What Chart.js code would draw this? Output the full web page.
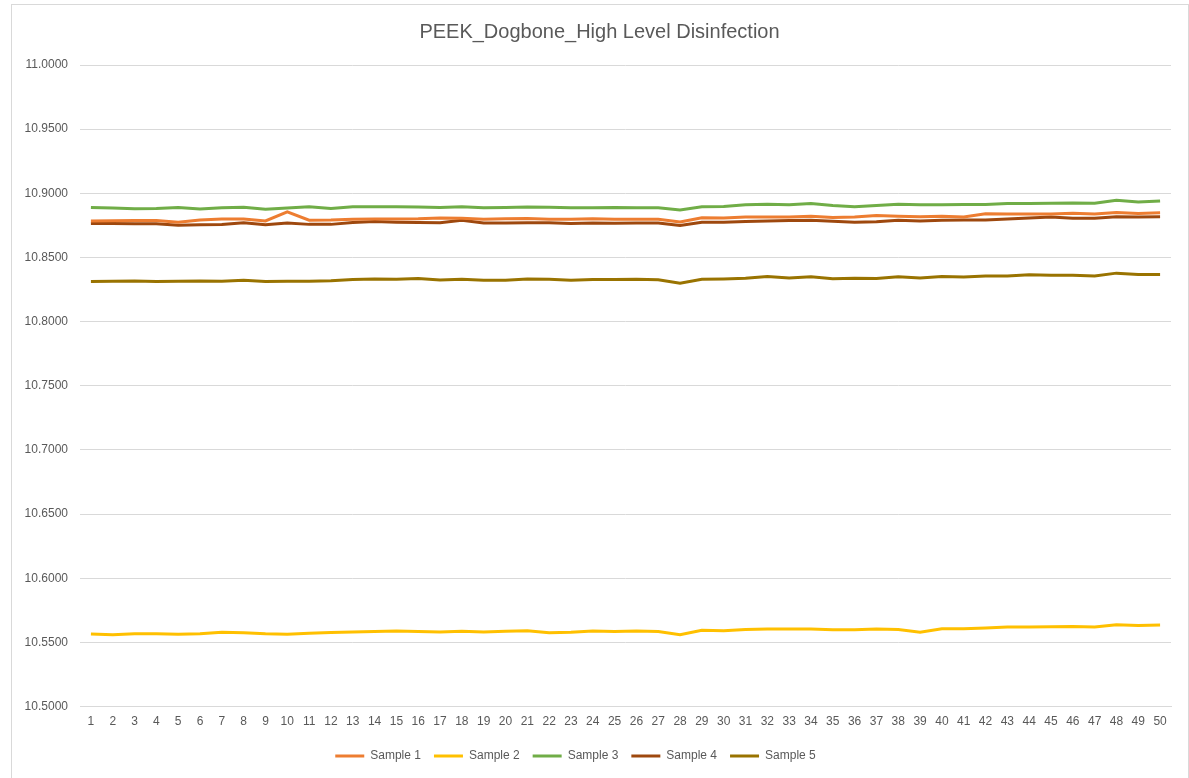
<!DOCTYPE html>
<html>
<head>
<meta charset="utf-8">
<script src="https://cdn.jsdelivr.net/npm/chart.js@4"></script>
<style>
  html, body { margin: 0; padding: 0; background: #ffffff; overflow: hidden; }
  #wrap { position: relative; width: 1189px; height: 778px; }
  #frame {
    position: absolute; left: 11px; top: 4px; width: 1176px; height: 800px;
    border: 1px solid #d9d9d9; pointer-events: none;
  }
</style>
</head>
<body>
<div id="wrap">
  <canvas id="chart" width="1189" height="778"></canvas>
  <div id="frame"></div>
</div>
<script>
const categories = Array.from({ length: 50 }, (_, i) => String(i + 1));

const sample1 = [10.8785, 10.8787, 10.8788, 10.8788, 10.8775, 10.8792, 10.8800, 10.8800, 10.8785, 10.8855,
  10.8790, 10.8792, 10.8798, 10.8800, 10.8800, 10.8802, 10.8808, 10.8805, 10.8798, 10.8802,
  10.8803, 10.8798, 10.8797, 10.8802, 10.8798, 10.8797, 10.8797, 10.8777, 10.8810, 10.8808,
  10.8815, 10.8815, 10.8815, 10.8822, 10.8812, 10.8815, 10.8828, 10.8822, 10.8818, 10.8822,
  10.8815, 10.8840, 10.8838, 10.8838, 10.8838, 10.8845, 10.8838, 10.8850, 10.8842, 10.8848];

const sample2 = [10.5565, 10.5560, 10.5568, 10.5567, 10.5563, 10.5567, 10.5580, 10.5575, 10.5567, 10.5563,
  10.5572, 10.5577, 10.5582, 10.5585, 10.5590, 10.5585, 10.5582, 10.5587, 10.5582, 10.5587,
  10.5592, 10.5575, 10.5580, 10.5590, 10.5585, 10.5590, 10.5585, 10.5560, 10.5595, 10.5592,
  10.5600, 10.5605, 10.5605, 10.5605, 10.5598, 10.5598, 10.5605, 10.5600, 10.5580, 10.5607,
  10.5607, 10.5612, 10.5620, 10.5620, 10.5622, 10.5625, 10.5620, 10.5637, 10.5632, 10.5635];

const sample3 = [10.8890, 10.8885, 10.8880, 10.8882, 10.8890, 10.8878, 10.8888, 10.8892, 10.8875, 10.8885,
  10.8895, 10.8882, 10.8895, 10.8895, 10.8895, 10.8893, 10.8890, 10.8895, 10.8888, 10.8890,
  10.8893, 10.8892, 10.8888, 10.8887, 10.8890, 10.8888, 10.8888, 10.8870, 10.8895, 10.8898,
  10.8910, 10.8915, 10.8910, 10.8920, 10.8905, 10.8895, 10.8905, 10.8915, 10.8910, 10.8910,
  10.8912, 10.8912, 10.8920, 10.8920, 10.8922, 10.8925, 10.8922, 10.8945, 10.8932, 10.8940];

const sample4 = [10.8765, 10.8765, 10.8762, 10.8763, 10.8752, 10.8755, 10.8757, 10.8770, 10.8755, 10.8768,
  10.8758, 10.8758, 10.8772, 10.8780, 10.8775, 10.8772, 10.8770, 10.8790, 10.8768, 10.8768,
  10.8770, 10.8770, 10.8765, 10.8768, 10.8767, 10.8768, 10.8768, 10.8750, 10.8775, 10.8775,
  10.8780, 10.8785, 10.8788, 10.8790, 10.8782, 10.8775, 10.8778, 10.8790, 10.8785, 10.8790,
  10.8792, 10.8793, 10.8800, 10.8808, 10.8815, 10.8805, 10.8805, 10.8818, 10.8815, 10.8818];

const sample5 = [10.8312, 10.8315, 10.8317, 10.8312, 10.8315, 10.8317, 10.8315, 10.8322, 10.8312, 10.8315,
  10.8315, 10.8318, 10.8328, 10.8332, 10.8330, 10.8337, 10.8325, 10.8330, 10.8322, 10.8322,
  10.8332, 10.8330, 10.8322, 10.8328, 10.8328, 10.8330, 10.8327, 10.8299, 10.8330, 10.8333,
  10.8338, 10.8352, 10.8340, 10.8350, 10.8335, 10.8338, 10.8337, 10.8350, 10.8340, 10.8352,
  10.8348, 10.8355, 10.8355, 10.8365, 10.8362, 10.8362, 10.8355, 10.8378, 10.8368, 10.8368];

const seriesNames = ["Sample 1", "Sample 2", "Sample 3", "Sample 4", "Sample 5"];
const seriesColors = ["#ED7D31", "#FFC000", "#70AD47", "#9E480E", "#997300"];
const seriesData = [sample1, sample2, sample3, sample4, sample5];

const fontFamily = "'Liberation Sans', 'DejaVu Sans', sans-serif";
const textColor = "#595959";

// nudge title to the frame centre and legend a bit left, like the Excel original
const nudgeBoxes = {
  id: "nudgeBoxes",
  afterLayout(chart) {
    chart.titleBlock.left += 20;
    chart.legend.left -= 14;
    chart.legend.right -= 14;
  },
};

new Chart(document.getElementById("chart").getContext("2d"), {
  type: "line",
  data: {
    labels: categories,
    datasets: seriesData.map((d, i) => ({
      label: seriesNames[i],
      data: d,
      borderColor: seriesColors[i],
      backgroundColor: seriesColors[i],
      borderWidth: 3,
      pointRadius: 0,
      tension: 0,
      fill: false,
    })),
  },
  options: {
    responsive: false,
    animation: false,
    layout: { padding: { left: 8, right: 18, top: 10, bottom: 6 } },
    plugins: {
      title: {
        display: true,
        text: "PEEK_Dogbone_High Level Disinfection",
        color: textColor,
        font: { family: fontFamily, size: 20, weight: "normal" },
        padding: { top: 10, bottom: 21 },
      },
      legend: {
        position: "bottom",
        labels: {
          color: textColor,
          font: { family: fontFamily, size: 12 },
          usePointStyle: true,
          pointStyle: "line",
          pointStyleWidth: 29,
          padding: 13,
        },
      },
      tooltip: { enabled: false },
    },
    scales: {
      x: {
        offset: true,
        grid: { display: false, drawTicks: false },
        border: { color: "#d9d9d9" },
        ticks: {
          color: textColor,
          font: { family: fontFamily, size: 12 },
          maxRotation: 0,
          autoSkip: false,
          padding: 8,
        },
      },
      y: {
        min: 10.5,
        max: 11.0,
        afterFit: (scale) => { scale.width = 72; },
        grid: { color: "#d9d9d9", drawTicks: false },
        border: { display: false },
        ticks: {
          stepSize: 0.05,
          color: textColor,
          font: { family: fontFamily, size: 12 },
          padding: 12,
          callback: (v) => Number(v).toFixed(4),
        },
      },
    },
  },
  plugins: [nudgeBoxes],
});
</script>
</body>
</html>
